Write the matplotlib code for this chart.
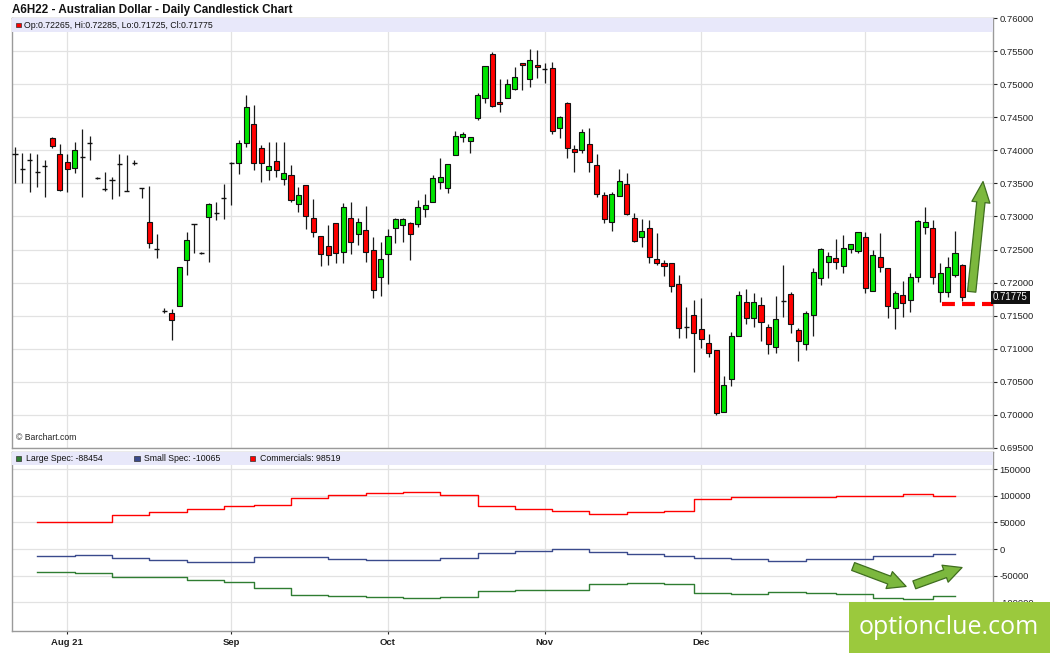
import matplotlib.pyplot as plt
import matplotlib.transforms as mtransforms
from matplotlib.patches import Rectangle, FancyArrowPatch

# daily candles, A6H22 (index = trading day)
opens = [0.73944, 0.73717, 0.73853, 0.73671, 0.73762, 0.74185, 0.73944, 0.73823, 0.73732, 0.73898,
         0.74110, 0.73581, 0.73414, 0.73550, 0.73793, 0.73384, 0.73808, 0.73429, 0.72915, 0.72507,
         0.71570, 0.71540, 0.71645, 0.72341, 0.72885, 0.72447, 0.72990, 0.73051, 0.73278, 0.73808,
         0.73808, 0.74110, 0.74397, 0.74034, 0.73702, 0.73838, 0.73566, 0.73626, 0.73187, 0.73475,
         0.72975, 0.72704, 0.72553, 0.72900, 0.72462, 0.72975, 0.72734, 0.72794, 0.72492, 0.72084,
         0.72432, 0.72825, 0.72870, 0.72900, 0.72885, 0.73112, 0.73218, 0.73520, 0.73429, 0.73928,
         0.74200, 0.74140, 0.74488, 0.74790, 0.75456, 0.74730, 0.74790, 0.74926, 0.75319, 0.75078,
         0.75289, 0.75229, 0.75244, 0.74337, 0.74715, 0.74019, 0.74004, 0.74095, 0.73777, 0.73324,
         0.72915, 0.73308, 0.73490, 0.72975, 0.72689, 0.72825, 0.72356, 0.72296, 0.72296, 0.71978,
         0.71328, 0.71509, 0.71298, 0.71086, 0.70980, 0.70043, 0.70542, 0.71192, 0.71706, 0.71464,
         0.71661, 0.71328, 0.71025, 0.71721, 0.71827, 0.71282, 0.71071, 0.71509, 0.72069, 0.72311,
         0.72371, 0.72250, 0.72507, 0.72477, 0.72689, 0.71872, 0.72386, 0.72220, 0.71615, 0.71812,
         0.71736, 0.72084, 0.72840, 0.72825, 0.71857, 0.71857, 0.72114, 0.72265]
highs = [0.74049, 0.73959, 0.73959, 0.73944, 0.73853, 0.74200, 0.74095, 0.73944, 0.74125, 0.74322,
         0.74216, 0.73596, 0.73671, 0.73596, 0.73944, 0.73928, 0.73853, 0.73429, 0.73460, 0.72734,
         0.71615, 0.71600, 0.72235, 0.72764, 0.72885, 0.72462, 0.73202, 0.73218, 0.73490, 0.73823,
         0.74155, 0.74836, 0.74684, 0.74080, 0.74125, 0.74125, 0.74125, 0.73777, 0.73445, 0.73475,
         0.73263, 0.72704, 0.72870, 0.72900, 0.73202, 0.73218, 0.72975, 0.73157, 0.72689, 0.72613,
         0.72810, 0.72975, 0.72975, 0.72915, 0.73248, 0.73339, 0.73626, 0.73883, 0.73793, 0.74291,
         0.74276, 0.74200, 0.74866, 0.75274, 0.75486, 0.75078, 0.75078, 0.75259, 0.75319, 0.75531,
         0.75516, 0.75319, 0.75335, 0.74518, 0.74730, 0.74080, 0.74322, 0.74337, 0.73944, 0.73369,
         0.73369, 0.73717, 0.73656, 0.73051, 0.72960, 0.72945, 0.72749, 0.72341, 0.72296, 0.72114,
         0.71630, 0.71736, 0.71766, 0.71222, 0.70980, 0.70587, 0.71252, 0.71872, 0.71902, 0.71842,
         0.71781, 0.71373, 0.71796, 0.72265, 0.71857, 0.71313, 0.71570, 0.72220, 0.72522, 0.72462,
         0.72658, 0.72719, 0.72583, 0.72764, 0.72764, 0.72492, 0.72749, 0.72220, 0.71872, 0.72023,
         0.72144, 0.72945, 0.73142, 0.72945, 0.72296, 0.72386, 0.72779, 0.72285]
lows = [0.73505, 0.73505, 0.73369, 0.73445, 0.73293, 0.74034, 0.73384, 0.73369, 0.73656, 0.73293,
        0.73853, 0.73566, 0.73384, 0.73263, 0.73308, 0.73384, 0.73777, 0.73278, 0.72522, 0.72371,
        0.71540, 0.71127, 0.71645, 0.72114, 0.72447, 0.72432, 0.72311, 0.72945, 0.72960, 0.73172,
        0.73641, 0.74049, 0.73702, 0.73520, 0.73550, 0.73596, 0.73475, 0.73218, 0.73067, 0.72810,
        0.72689, 0.72250, 0.72265, 0.72296, 0.72296, 0.72432, 0.72568, 0.72311, 0.71766, 0.71796,
        0.71978, 0.72598, 0.72613, 0.72341, 0.72840, 0.72990, 0.73218, 0.73414, 0.73354, 0.73928,
        0.74125, 0.73959, 0.74458, 0.74715, 0.74654, 0.74579, 0.74790, 0.74911, 0.74911, 0.74957,
        0.75093, 0.75017, 0.74246, 0.74185, 0.73883, 0.73671, 0.73959, 0.73671, 0.73293, 0.72900,
        0.72779, 0.73308, 0.73021, 0.72613, 0.72537, 0.72296, 0.72265, 0.72099, 0.71857, 0.71161,
        0.71161, 0.70648, 0.71010, 0.70874, 0.69993, 0.70043, 0.70436, 0.71192, 0.71373, 0.71328,
        0.71116, 0.70920, 0.70935, 0.71479, 0.71237, 0.70814, 0.70980, 0.71192, 0.71963, 0.72069,
        0.72205, 0.72144, 0.72447, 0.72447, 0.71842, 0.71872, 0.72159, 0.71464, 0.71298, 0.71479,
        0.71555, 0.72008, 0.72734, 0.71978, 0.71706, 0.71781, 0.72084, 0.71725]
closes = [0.73944, 0.73717, 0.73853, 0.73671, 0.73762, 0.74064, 0.73399, 0.73717, 0.74004, 0.73898,
          0.74110, 0.73581, 0.73414, 0.73550, 0.73793, 0.73384, 0.73808, 0.73429, 0.72598, 0.72507,
          0.71570, 0.71434, 0.72235, 0.72643, 0.72885, 0.72447, 0.73187, 0.73051, 0.73278, 0.73808,
          0.74110, 0.74654, 0.73808, 0.73808, 0.73762, 0.73702, 0.73656, 0.73248, 0.73324, 0.73006,
          0.72764, 0.72432, 0.72416, 0.72447, 0.73142, 0.72613, 0.72915, 0.72462, 0.71887, 0.72356,
          0.72704, 0.72960, 0.72960, 0.72734, 0.73142, 0.73172, 0.73581, 0.73596, 0.73793, 0.74216,
          0.74246, 0.74200, 0.74836, 0.75274, 0.74669, 0.74700, 0.75002, 0.75108, 0.75289, 0.75365,
          0.75259, 0.75229, 0.74291, 0.74503, 0.74034, 0.73974, 0.74276, 0.73823, 0.73339, 0.72960,
          0.73339, 0.73535, 0.73036, 0.72628, 0.72779, 0.72386, 0.72296, 0.72250, 0.71948, 0.71313,
          0.71328, 0.71237, 0.71146, 0.70935, 0.70023, 0.70451, 0.71192, 0.71812, 0.71464, 0.71706,
          0.71403, 0.71071, 0.71449, 0.71721, 0.71373, 0.71116, 0.71540, 0.72159, 0.72507, 0.72401,
          0.72311, 0.72522, 0.72583, 0.72764, 0.71918, 0.72416, 0.72235, 0.71645, 0.71842, 0.71691,
          0.72084, 0.72930, 0.72915, 0.72084, 0.72144, 0.72235, 0.72447, 0.71775]

month_idx = [7, 29, 50, 71, 92, 114]
month_labels = ["Aug 21", "Sep", "Oct", "Nov", "Dec", "Jan"]

# weekly COT positions (step starts at day index)
cot_weeks = [3, 8, 13, 18, 23, 28, 32, 37, 42, 47, 52, 57, 62, 67, 72, 77, 82, 87, 91, 96,
             101, 106, 110, 115, 119, 123]
cot_end = 126
commercials = [50000, 50000, 63000, 69400, 75000, 80600, 82500, 95000, 100600, 105000,
               107500, 100600, 80600, 75000, 71900, 65000, 68800, 71900, 93750, 97500,
               98000, 98000, 98800, 98800, 103000, 98519]
small_spec = [-13700, -11900, -16200, -21200, -23700, -23700, -15000, -15000, -18100, -20000,
              -20000, -16900, -6900, -3500, 600, -5600, -10000, -12500, -16900, -18750,
              -22500, -19400, -19400, -13700, -13700, -10065]
large_spec = [-42500, -44400, -51900, -51900, -58700, -62500, -72500, -85600, -87500, -89400,
              -92500, -90600, -79400, -77500, -77500, -65600, -64400, -65600, -83100, -84400,
              -80600, -82500, -84400, -92500, -94400, -88454]

support_level = 0.71675
support_from = 124.3
up_arrow = [(128.2, 0.7182), (129.8, 0.7357)]
cot_arrows = [[(112.0, -31000), (119.8, -72000)], [(120.2, -69000), (127.3, -33000)]]

GREEN = "#00e400"
RED = "#ff0000"
GRID = "#e2e2e2"
BAND = "#e8e8fa"
ARROW_FC = "#7cb83e"
ARROW_EC = "#3f6e1f"
plt.rcParams["font.family"] = ["Liberation Sans", "DejaVu Sans"]

fig = plt.figure(figsize=(10.5, 6.53), dpi=100)
ax = fig.add_axes([0.01143, 0.31394, 0.9343, 0.65849])
ax2 = fig.add_axes([0.01143, 0.03369, 0.9343, 0.27412])

x = list(range(len(opens)))
ax.set_xlim(-0.4, 131.1)
ax.set_ylim(0.695, 0.760)

# candles
ax.vlines(x, lows, highs, color="#1a1a1a", lw=0.9, zorder=2)
w = 0.68
for i in x:
    o, c = opens[i], closes[i]
    if abs(c - o) < 0.00003:
        ax.hlines(o, i - w / 2, i + w / 2, color="#111111", lw=1.0, zorder=3)
    else:
        ax.bar(i, abs(c - o), bottom=min(o, c), width=w,
               color=GREEN if c > o else RED, edgecolor="#111111", lw=0.8, zorder=3)

ax.plot([support_from, 131.1], [support_level] * 2, color=RED, lw=3,
        dashes=(3.1, 1.7), solid_capstyle="butt", zorder=4)
ax.add_patch(FancyArrowPatch(up_arrow[0], up_arrow[1],
                             arrowstyle="simple,head_width=13,head_length=15,tail_width=6",
                             mutation_scale=1, fc=ARROW_FC, ec=ARROW_EC, lw=0.9, zorder=5))

ax.set_yticks([0.695 + 0.005 * k for k in range(14)])
ax.yaxis.tick_right()
ax.yaxis.set_major_formatter(plt.FuncFormatter(lambda v, p: f"{v:.5f}"))
ax.set_xticks(month_idx)
ax.set_xticklabels([])
ax.tick_params(axis="x", length=0)
ax.tick_params(axis="y", length=3, width=0.8, pad=1.5, labelsize=6.8, colors="#222222")
ax.grid(True, color=GRID, lw=0.9, zorder=0)
ax.set_axisbelow(True)

ax.add_patch(Rectangle((0, 1 - 14 / 430), 1, 14 / 430, transform=ax.transAxes,
                       facecolor=BAND, edgecolor="none", zorder=6))
ax.add_patch(Rectangle((0.004, 0.9795), 0.0055, 0.0095, transform=ax.transAxes,
                       facecolor=RED, edgecolor="#333333", lw=0.5, zorder=7))
ax.text(0.012, 0.9837, f"Op:{opens[-1]:.5f}, Hi:{highs[-1]:.5f}, Lo:{lows[-1]:.5f}, Cl:{closes[-1]:.5f}",
        transform=ax.transAxes, fontsize=6.3, va="center", ha="left", color="#111111", zorder=7)
ax.text(0.004, 0.025, "© Barchart.com", transform=ax.transAxes, fontsize=6.2,
        va="center", ha="left", color="#222222")
trans = mtransforms.blended_transform_factory(ax.transAxes, ax.transData)
ax.text(1.0, closes[-1], f"{closes[-1]:.5f}", transform=trans, fontsize=6.9, color="white",
        va="center", ha="left", clip_on=False, zorder=8,
        bbox=dict(boxstyle="square,pad=0.2", fc="#111111", ec="none"))

fig.text(0.0115, 0.984, "A6H22 - Australian Dollar - Daily Candlestick Chart",
         fontsize=8.4, fontweight="bold", va="center", ha="left", color="#111111")

# COT panel
ax2.set_xlim(-0.4, 131.1)
ax2.set_ylim(-153750, 181875)
xs = cot_weeks + [cot_end]
for vals, col in [(commercials, RED), (small_spec, "#3a4a8c"), (large_spec, "#2f7d32")]:
    ax2.step(xs, vals + [vals[-1]], where="post", color=col, lw=1.0, zorder=3)

for a in cot_arrows:
    ax2.add_patch(FancyArrowPatch(a[0], a[1],
                                  arrowstyle="simple,head_width=13,head_length=13,tail_width=6",
                                  mutation_scale=1, fc=ARROW_FC, ec=ARROW_EC, lw=0.9, zorder=5))

ax2.set_yticks([-100000, -50000, 0, 50000, 100000, 150000])
ax2.yaxis.tick_right()
ax2.yaxis.set_major_formatter(plt.FuncFormatter(lambda v, p: f"{int(v)}"))
ax2.set_xticks(month_idx)
ax2.set_xticklabels(month_labels, fontweight="bold")
ax2.tick_params(axis="x", length=2, pad=3, labelsize=6.8, colors="#222222")
ax2.tick_params(axis="y", length=3, width=0.8, pad=1.5, labelsize=6.8, colors="#222222")
ax2.grid(True, color=GRID, lw=0.9, zorder=0)
ax2.set_axisbelow(True)

ax2.add_patch(Rectangle((0, 1 - 13 / 179), 1, 13 / 179, transform=ax2.transAxes,
                        facecolor=BAND, edgecolor="none", zorder=6))
legend_items = [("Large Spec: ", large_spec[-1], "#2f7d32", 0.004),
                ("Small Spec: ", small_spec[-1], "#3a4a8c", 0.1245),
                ("Commercials: ", commercials[-1], RED, 0.2425)]
for name, val, col, lx in legend_items:
    ax2.add_patch(Rectangle((lx, 0.951), 0.0055, 0.028, transform=ax2.transAxes,
                            facecolor=col, edgecolor="#333333", lw=0.5, zorder=7))
    ax2.text(lx + 0.0105, 0.965, f"{name}{val}", transform=ax2.transAxes, fontsize=6.3,
             va="center", ha="left", color="#111111", zorder=7)

for a in (ax, ax2):
    for s in a.spines.values():
        s.set_color("#9a9a9a")
        s.set_linewidth(1.0)

# watermark
fig.patches.append(Rectangle((849 / 1050, 0), 201 / 1050, 51 / 653, transform=fig.transFigure,
                             facecolor="#9bc93d", edgecolor="none", zorder=10))
fig.text(0.9033, 0.0383, "optionclue.com", color="white", fontsize=18,
         family=["Open Sans", "DejaVu Sans"], ha="center", va="center", zorder=11)

fig.savefig("out.png", dpi=100)
